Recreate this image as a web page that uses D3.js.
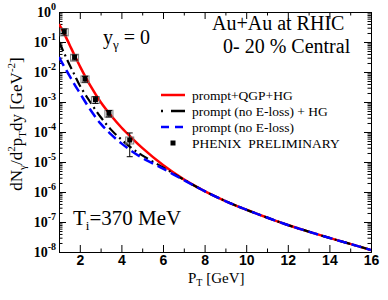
<!DOCTYPE html>
<html>
<head>
<meta charset="utf-8">
<script src="https://cdn.jsdelivr.net/npm/d3@7"></script>
<style>
  body { margin: 0; background: #fff; }
  svg { display: block; font-family: "Liberation Serif", "Times New Roman", serif; }
  .axis path, .axis line { stroke: #000; stroke-width: 1; }
  .ticklabel { font-weight: bold; font-size: 14px; }
</style>
</head>
<body>
<div id="chart"></div>
<script>
// theory curves, pT in GeV
const ptCurve = [1, 1.25, 1.5, 1.75, 2, 2.5, 3, 3.5, 4, 4.5, 5, 6, 7, 8, 9, 10, 11, 12, 13, 14, 15, 16];
const qgpHG = [3.98e-1, 1.91e-1, 8.3e-2, 3.55e-2, 1.58e-2, 3.55e-3, 1.0e-3, 3.55e-4, 1.41e-4, 6.3e-5, 2.95e-5,
  7.9e-6, 2.63e-6, 1.07e-6, 5.0e-7, 2.57e-7, 1.41e-7, 7.94e-8, 4.79e-8, 2.95e-8, 1.86e-8, 1.17e-8];
const noElossHG = [1.02e-1, 4.2e-2, 1.78e-2, 7.9e-3, 3.55e-3, 1.0e-3, 3.16e-4, 1.2e-4, 5.6e-5, 2.88e-5, 1.66e-5,
  6.6e-6, 2.57e-6, 1.07e-6, 5.0e-7, 2.57e-7, 1.41e-7, 7.94e-8, 4.79e-8, 2.95e-8, 1.86e-8, 1.17e-8];
const noEloss = [3.16e-2, 1.51e-2, 7.6e-3, 3.8e-3, 2.0e-3, 5.6e-4, 1.9e-4, 8.3e-5, 4.17e-5, 2.29e-5, 1.38e-5,
  6.0e-6, 2.5e-6, 1.07e-6, 5.0e-7, 2.57e-7, 1.41e-7, 7.94e-8, 4.79e-8, 2.95e-8, 1.86e-8, 1.17e-8];

// PHENIX preliminary points
const ptData = [1.25, 1.75, 2.25, 2.75, 3.4, 4.4];
const yData = [2.2e-1, 3.1e-2, 5.9e-3, 1.2e-3, 4.2e-4, 5.4e-5];
const statErr = [5e-2, 6e-3, 1.3e-3, 3e-4, 1e-4, 3.9e-5];
const sysErr = [6e-2, 8e-3, 1.5e-3, 3e-4, 1.1e-4, 1.4e-5];

const xTicks = [2, 4, 6, 8, 10, 12, 14, 16];
const xMinor = [3, 5, 7, 9, 11, 13, 15];
const yExp = [0, -1, -2, -3, -4, -5, -6, -7, -8];

const legendLabels = ['prompt+QGP+HG', 'prompt (no E-loss) + HG', 'prompt (no E-loss)', 'PHENIX  PRELIMINARY'];

var margin = { top: 12, right: 17, bottom: 48, left: 59 };
var width = 388 - margin.left - margin.right;
var height = 300 - margin.top - margin.bottom;

var svg = d3.select('#chart')
  .append('svg')
  .attr('width', 388)
  .attr('height', 300)
  .append('g')
  .attr('transform', 'translate(' + margin.left + ',' + margin.top + ')');

var x = d3.scaleLinear().domain([1, 16]).range([0, width]);
var y = d3.scaleLog().domain([1e-8, 1]).range([height, 0]);

var decades = yExp.map(function(e){ return Math.pow(10, e); });
var minors = [];
decades.slice(0, -1).forEach(function(d){
  for (var k = 2; k <= 9; k++) minors.push(d / 10 * k);
});

// axes, all ticks pointing inward
svg.append('g').attr('class', 'axis')
  .attr('transform', 'translate(0,' + height + ')')
  .call(d3.axisBottom(x).tickValues(xTicks).tickSize(-7).tickSizeOuter(0).tickPadding(3).tickFormat(d3.format('d')))
  .selectAll('text').attr('class', 'ticklabel').attr('fill', '#000');
svg.append('g').attr('class', 'axis')
  .attr('transform', 'translate(0,' + height + ')')
  .call(d3.axisBottom(x).tickValues(xMinor).tickSize(-3.5).tickSizeOuter(0).tickFormat(''));
svg.append('g').attr('class', 'axis')
  .call(d3.axisTop(x).tickValues(xTicks).tickSize(-7).tickSizeOuter(0).tickFormat(''));
svg.append('g').attr('class', 'axis')
  .call(d3.axisTop(x).tickValues(xMinor).tickSize(-3.5).tickSizeOuter(0).tickFormat(''));

svg.append('g').attr('class', 'axis')
  .call(d3.axisLeft(y).tickValues(decades).tickSize(-7).tickSizeOuter(0).tickFormat(''));
svg.append('g').attr('class', 'axis')
  .call(d3.axisLeft(y).tickValues(minors).tickSize(-3.5).tickSizeOuter(0).tickFormat(''));
svg.append('g').attr('class', 'axis')
  .attr('transform', 'translate(' + width + ',0)')
  .call(d3.axisRight(y).tickValues(decades).tickSize(-7).tickSizeOuter(0).tickFormat(''));
svg.append('g').attr('class', 'axis')
  .attr('transform', 'translate(' + width + ',0)')
  .call(d3.axisRight(y).tickValues(minors).tickSize(-3.5).tickSizeOuter(0).tickFormat(''));

// y tick labels 10^n
var ylab = svg.selectAll('.ylab').data(yExp).enter().append('text')
  .attr('class', 'ticklabel')
  .attr('x', -3)
  .attr('y', function(d){ return y(Math.pow(10, d)) + 5; })
  .attr('text-anchor', 'end');
ylab.append('tspan').text('10');
ylab.append('tspan').attr('dy', -7).style('font-size', '10px').text(function(d){ return d; });

// axis titles
var ytitle = svg.append('text')
  .attr('transform', 'translate(-37,' + (height / 2 - 8) + ') rotate(-90)')
  .attr('text-anchor', 'middle')
  .style('font-size', '17px');
ytitle.append('tspan').text('dN');
ytitle.append('tspan').attr('dy', 4).style('font-size', '11px').text('γ');
ytitle.append('tspan').attr('dy', -4).text('/d');
ytitle.append('tspan').attr('dy', -7).style('font-size', '11px').text('2');
ytitle.append('tspan').attr('dy', 7).text('p');
ytitle.append('tspan').attr('dy', 4).style('font-size', '11px').text('T');
ytitle.append('tspan').attr('dy', -4).text('dy [GeV');
ytitle.append('tspan').attr('dy', -7).style('font-size', '11px').text('-2');
ytitle.append('tspan').attr('dy', 7).text(']');

var xtitle = svg.append('text')
  .attr('x', x(7.2))
  .attr('y', height + 31)
  .style('font-size', '15px');
xtitle.append('tspan').text('P');
xtitle.append('tspan').attr('dy', 3).style('font-size', '10px').text('T');
xtitle.append('tspan').attr('dy', -3).text(' [GeV]');

// curves
var line = d3.line()
  .x(function(d){ return x(d[0]); })
  .y(function(d){ return y(d[1]); })
  .curve(d3.curveCatmullRom.alpha(0.5));

var series = [
  { vals: qgpHG, color: '#ff0000', dash: null, w: 2.5 },
  { vals: noElossHG, color: '#000', dash: '10,4,2,4', w: 2.2 },
  { vals: noEloss, color: '#0000ff', dash: '10,5', w: 2.5 }
];

svg.append('clipPath').attr('id', 'clip')
  .append('rect').attr('width', width).attr('height', height);

svg.selectAll('.curve').data(series).enter().append('path')
  .attr('class', 'curve')
  .attr('clip-path', 'url(#clip)')
  .attr('d', function(s){ return line(ptCurve.map(function(p, i){ return [p, s.vals[i]]; })); })
  .attr('fill', 'none')
  .attr('stroke', function(s){ return s.color; })
  .attr('stroke-width', function(s){ return s.w; })
  .attr('stroke-dasharray', function(s){ return s.dash; });

// data points: sys box, stat bar, marker
var pts = svg.selectAll('.pt').data(ptData).enter().append('g').attr('class', 'pt');
pts.append('rect')
  .attr('x', function(d){ return x(d) - 4; })
  .attr('y', function(d, i){ return y(yData[i] + sysErr[i]); })
  .attr('width', 8)
  .attr('height', function(d, i){ return y(yData[i] - sysErr[i]) - y(yData[i] + sysErr[i]); })
  .attr('fill', 'none')
  .attr('stroke', '#777')
  .attr('stroke-width', 1);
pts.append('line')
  .attr('x1', function(d){ return x(d); })
  .attr('x2', function(d){ return x(d); })
  .attr('y1', function(d, i){ return y(yData[i] + statErr[i]); })
  .attr('y2', function(d, i){ return y(yData[i] - statErr[i]); })
  .attr('stroke', '#000');
[1, -1].forEach(function(sgn){
  pts.append('line')
    .attr('x1', function(d){ return x(d) - 3; })
    .attr('x2', function(d){ return x(d) + 3; })
    .attr('y1', function(d, i){ return y(yData[i] + sgn * statErr[i]); })
    .attr('y2', function(d, i){ return y(yData[i] + sgn * statErr[i]); })
    .attr('stroke', '#000');
});
pts.append('rect')
  .attr('x', function(d){ return x(d) - 2.5; })
  .attr('y', function(d, i){ return y(yData[i]) - 2.5; })
  .attr('width', 5)
  .attr('height', 5)
  .attr('fill', '#000');

// annotations
var yg = svg.append('text').attr('x', 44).attr('y', 32).style('font-size', '20px');
yg.append('tspan').text('y');
yg.append('tspan').attr('dy', 5).style('font-size', '13px').text('γ');
yg.append('tspan').attr('dy', -5).text(' = 0');

svg.append('text').attr('x', 153).attr('y', 18).style('font-size', '20px').text('Au+Au at RHIC');
svg.append('text').attr('x', 164).attr('y', 41).style('font-size', '20px').text('0- 20 % Central');

var ti = svg.append('text').attr('x', 14).attr('y', 213).style('font-size', '21px');
ti.append('tspan').text('T');
ti.append('tspan').attr('dy', 5).style('font-size', '13px').text('i');
ti.append('tspan').attr('dy', -5).text('=370 MeV');

// legend
var legend = svg.selectAll('.legend').data(legendLabels).enter().append('g')
  .attr('class', 'legend')
  .attr('transform', function(d, i){ return 'translate(102,' + (83 + i * 16) + ')'; });
legend.filter(function(d, i){ return i < 3; }).append('line')
  .attr('x1', 0).attr('x2', 24)
  .attr('stroke', function(d, i){ return series[i].color; })
  .attr('stroke-width', 2.5)
  .attr('stroke-dasharray', function(d, i){ return i === 1 ? '2,8,14' : i === 2 ? '8,6' : null; });
legend.filter(function(d, i){ return i === 3; }).append('rect')
  .attr('x', 9.5).attr('y', -2.5).attr('width', 5).attr('height', 5).attr('fill', '#000');
legend.append('text')
  .attr('x', 31).attr('y', 4.5)
  .style('font-size', '13.5px')
  .style('white-space', 'pre')
  .text(function(d){ return d; });
</script>
</body>
</html>
